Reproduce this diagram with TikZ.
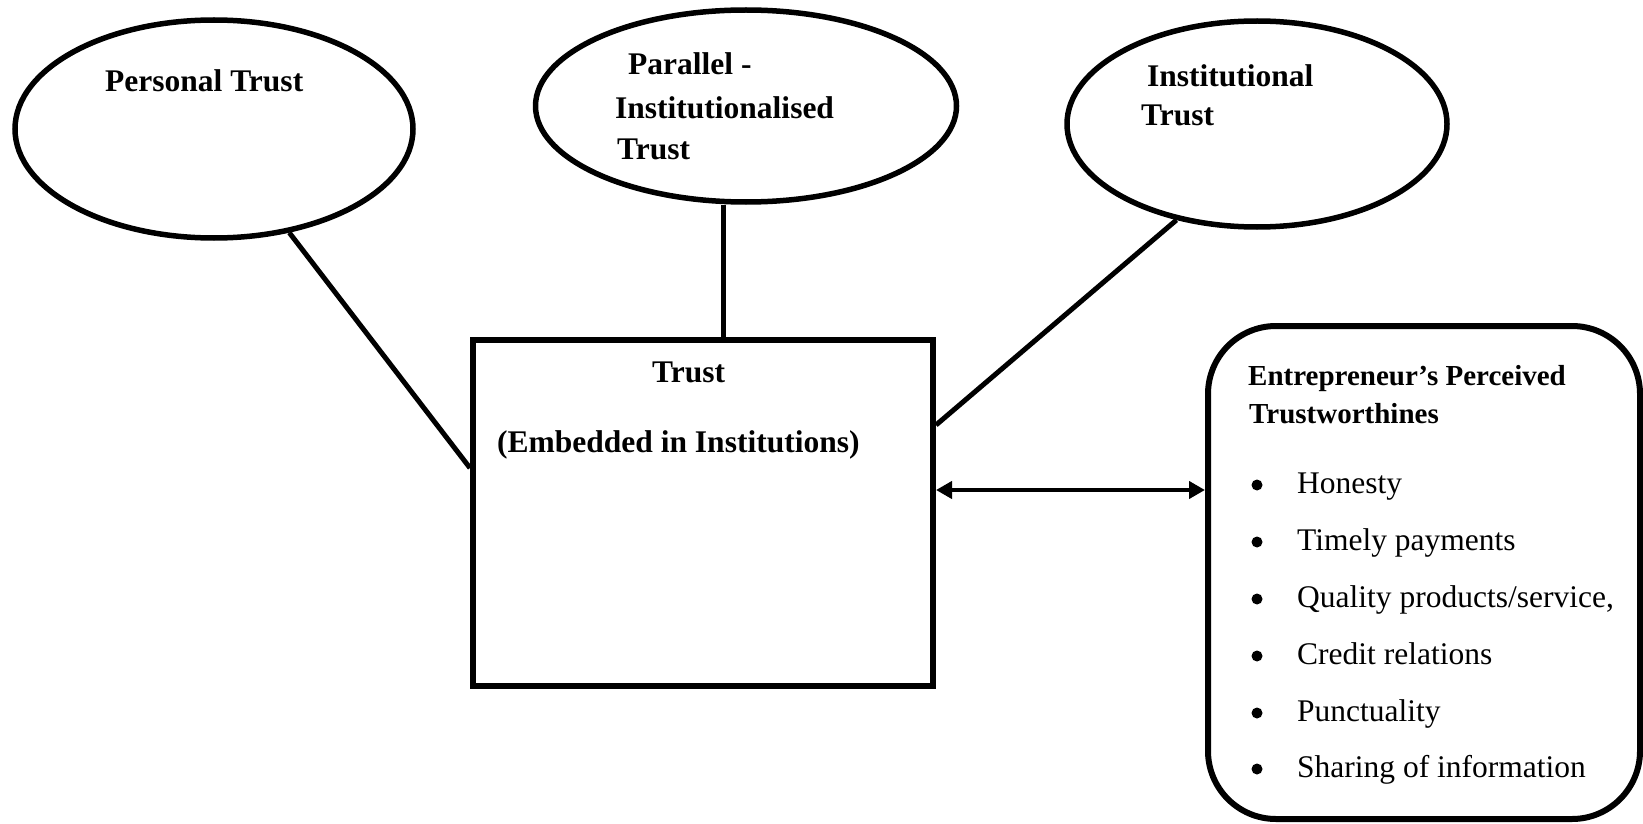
\documentclass[tikz,border=0pt]{standalone}
\usepackage{fontspec}
\setmainfont{Liberation Serif}
\usetikzlibrary{shapes.geometric,arrows.meta}
\begin{document}
\begin{tikzpicture}[x=1pt,y=-1pt,
  bubble/.style={draw,ellipse,line width=5.5pt,inner sep=0pt},
  trustbox/.style={draw,rectangle,line width=6pt,inner sep=0pt},
  listbox/.style={draw,rectangle,rounded corners=68pt,line width=6pt,inner sep=0pt},
  lbl/.style={anchor=base west,inner sep=0pt,font=\fontsize{31.5}{36}\selectfont\bfseries},
  head/.style={anchor=base west,inner sep=0pt,font=\fontsize{29}{34}\selectfont\bfseries},
  item/.style={anchor=base west,inner sep=0pt,font=\fontsize{31.5}{36}\selectfont},
  dot/.style={circle,fill,inner sep=0pt,minimum size=11pt},
  conn/.style={line width=5pt},
  twoway/.style={line width=4.5pt,{Triangle[length=16pt,width=17pt]}-{Triangle[length=16pt,width=17pt]}}
]
\useasboundingbox (0,0) rectangle (1643,824);

% the three kinds of trust
\node[bubble,minimum width=398pt,minimum height=218pt] (e1) at (214,129) {};
\node[bubble,minimum width=421pt,minimum height=192pt] (e2) at (746,106) {};
\node[bubble,minimum width=380pt,minimum height=206pt] (e3) at (1257,124) {};

\node[lbl] (e1a) at (105,92) {Personal Trust};

\node[lbl] (e2a) at (628,75) {Parallel -};
\node[lbl] (e2b) at (615,119) {Institutionalised};
\node[lbl] (e2c) at (617,160) {Trust};

\node[lbl] (e3a) at (1147,87) {Institutional};
\node[lbl] (e3b) at (1141,126) {Trust};

% central box
\node[trustbox,minimum width=460pt,minimum height=346pt] (r) at (703,513) {};
\node[lbl] (ra) at (652,382) {Trust};
\node[lbl] (rb) at (497,452) {(Embedded in Institutions)};

% trustworthiness list
\node[listbox,minimum width=432pt,minimum height=493pt] (lb) at (1424,572.5) {};
\node[head] (h1) at (1248,385) {Entrepreneur’s Perceived};
\node[head] (h2) at (1249,423) {Trustworthines};

\node[dot] (d1) at (1257,485) {};
\node[dot] (d2) at (1257,542) {};
\node[dot] (d3) at (1257,599) {};
\node[dot] (d4) at (1257,656) {};
\node[dot] (d5) at (1257,713) {};
\node[dot] (d6) at (1257,769) {};
\node[item] (i1) at (1297,493) {Honesty};
\node[item] (i2) at (1297,550) {Timely payments};
\node[item] (i3) at (1297,607) {Quality products/service,};
\node[item] (i4) at (1297,664) {Credit relations};
\node[item] (i5) at (1297,721) {Punctuality};
\node[item] (i6) at (1297,777) {Sharing of information};

% connectors
\coordinate (y1) at (0,468);
\coordinate (x2) at (723,0);
\coordinate (y3) at (0,425);
\coordinate (ya) at (0,490);

\draw[conn] (e1.-54) -- (r.west |- y1);
\draw[conn] (e2.south -| x2) -- (r.north -| x2);
\draw[conn] (e3.230) -- (r.east |- y3);
\draw[twoway] (r.east |- ya) -- (lb.west |- ya);
\end{tikzpicture}
\end{document}
